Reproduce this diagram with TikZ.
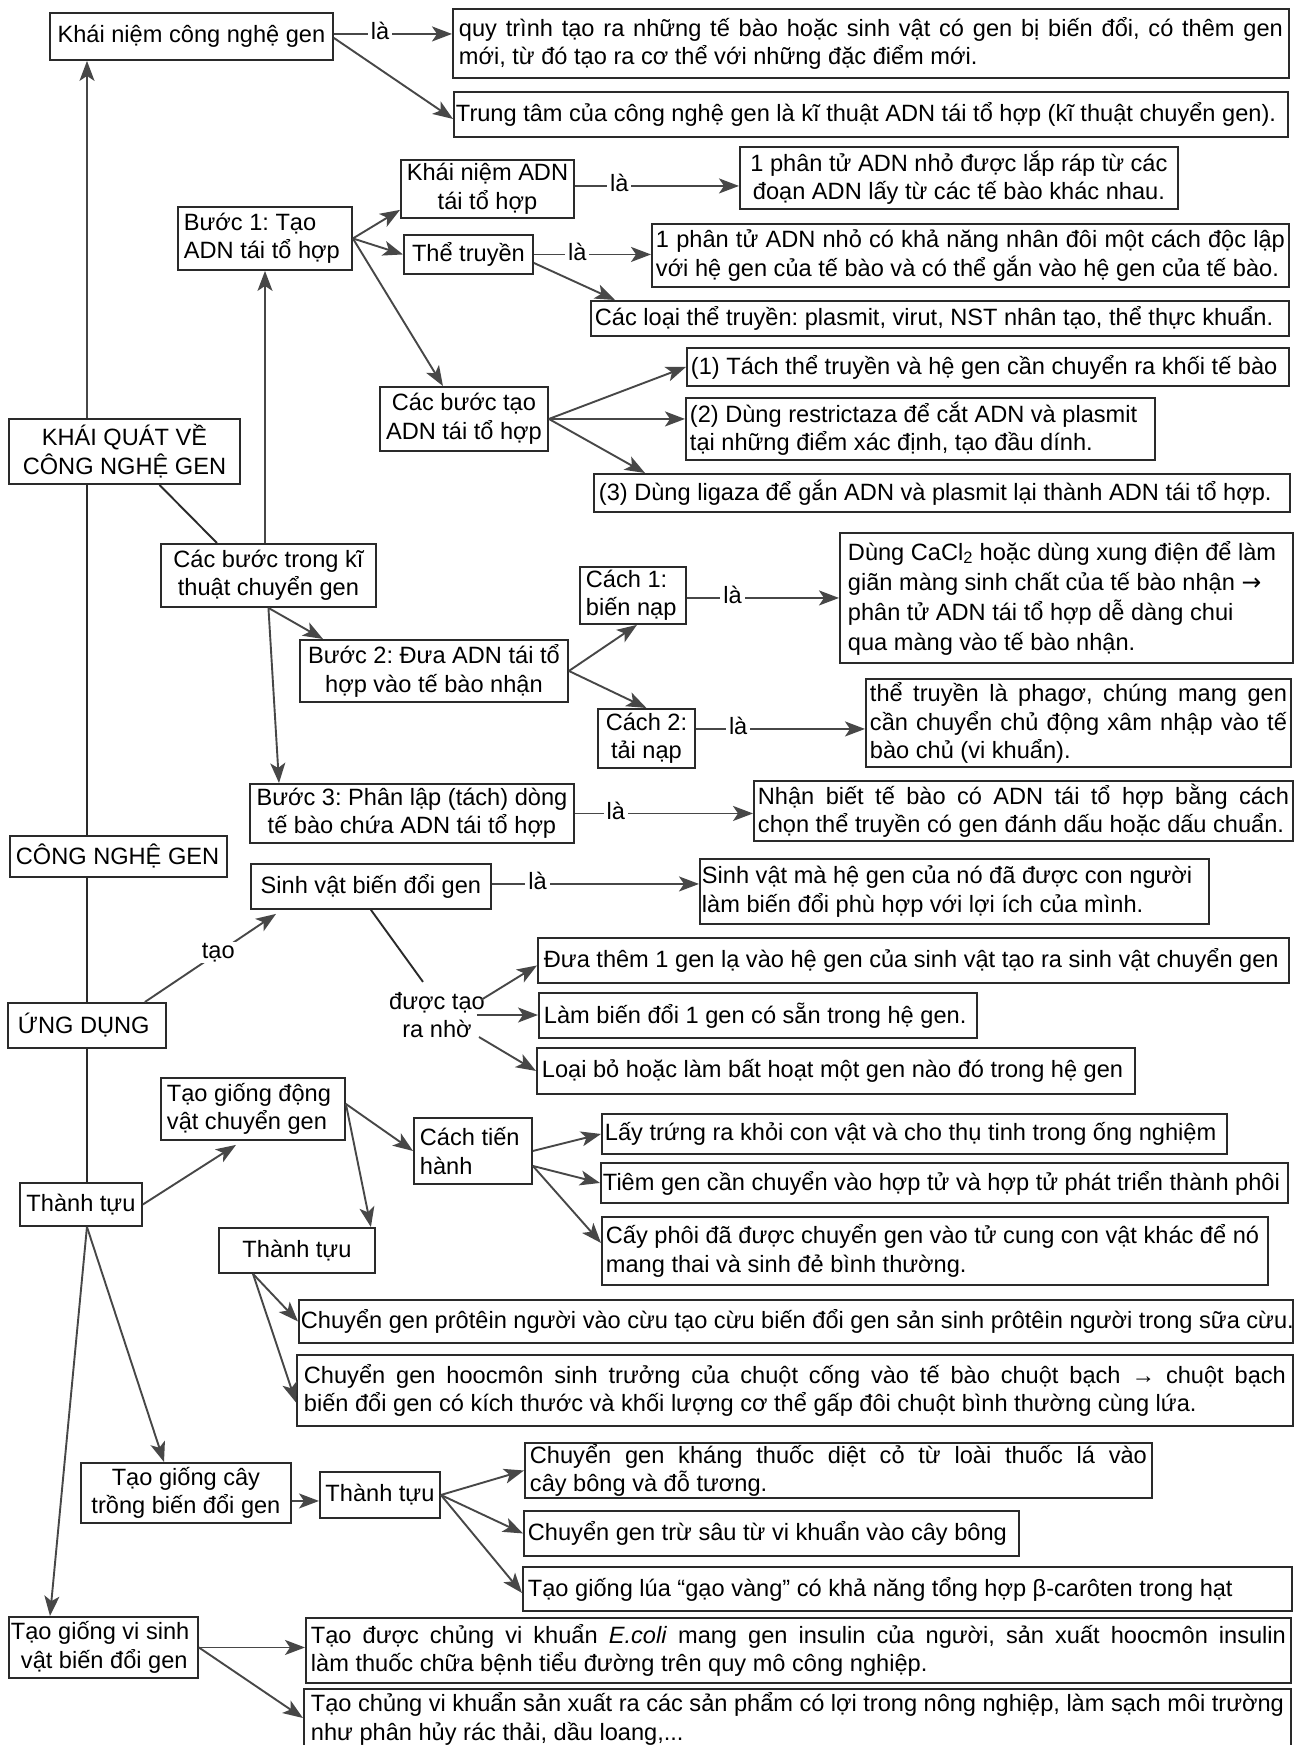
\documentclass[tikz,border=0pt]{standalone}
\usepackage{fontspec}
\setmainfont{Liberation Sans}
\newfontfamily\dvfont{DejaVu Sans}
\usetikzlibrary{arrows.meta,calc}
\definecolor{lc}{HTML}{2A2A2A}
\definecolor{ac}{HTML}{474747}
\newcommand\cmbox[8]{%
  \pgfmathsetmacro\bxw{#4-#2-2*#6}%
  \pgfmathsetmacro\bxh{#5-#3}%
  \node[box,inner xsep=#6pt,text width=\bxw pt,minimum height=\bxh pt,#7] (#1) at (#2,#3) {\spaceskip=0pt\xspaceskip=0pt\relax #8};}
\newcommand\jline[1]{\makebox[\bxw pt][s]{#1}}
\begin{document}
\frenchspacing
\begin{tikzpicture}[x=1pt,y=-1pt,
  box/.style={draw=lc,line width=1.9pt,anchor=north west,inner ysep=0pt,align=left,font=\fontsize{23.6}{28.5}\selectfont\frenchspacing},
  arr/.style={draw=ac,line width=1.9pt,-{Stealth[length=20pt,width=15pt,inset=5pt]}},
  ln/.style={draw=lc,line width=1.9pt},
  lbl/.style={fill=white,inner xsep=3pt,inner ysep=1pt,font=\fontsize{23.6}{28.5}\selectfont}]
\fill[white] (0,0) rectangle (1302,1745);
\useasboundingbox (0,0) rectangle (1302,1745);
\coordinate (tk) at (87,0);
\coordinate (tk2) at (265,0);

% ---- boxes ----
\cmbox{kn}{49}{12}{332}{59}{5}{align=center}{\mbox{Khái niệm công nghệ gen}}
\cmbox{qt}{452}{8}{1288}{77}{6}{}{\jline{quy trình tạo ra những tế bào hoặc sinh vật có gen bị biến đổi, có thêm gen}\\\mbox{mới, từ đó tạo ra cơ thể với những đặc điểm mới.}}
\cmbox{tt}{453}{91}{1287}{136}{2}{}{\mbox{Trung tâm của công nghệ gen là kĩ thuật ADN tái tổ hợp (kĩ thuật chuyển gen).}}
\cmbox{knadn}{400}{159}{573}{217}{3}{align=center}{\mbox{Khái niệm ADN}\\\mbox{tái tổ hợp}}
\cmbox{pt1}{739}{146}{1177}{208}{4}{align=center}{\mbox{1 phân tử ADN nhỏ được lắp ráp từ các}\\\mbox{đoạn ADN lấy từ các tế bào khác nhau.}}
\cmbox{b1}{177}{206}{351}{269}{6}{}{\mbox{Bước 1: Tạo}\\\mbox{ADN tái tổ hợp}}
\cmbox{the}{403}{234}{532}{273}{3}{align=center}{\mbox{Thể truyền}}
\cmbox{pt2}{651}{223}{1288}{286}{4}{}{\jline{1 phân tử ADN nhỏ có khả năng nhân đôi một cách độc lập}\\\mbox{với hệ gen của tế bào và có thể gắn vào hệ gen của tế bào.}}
\cmbox{cl}{590}{300}{1288}{335}{4}{}{\mbox{Các loại thể truyền: plasmit, virut, NST nhân tạo, thể thực khuẩn.}}
\cmbox{cbt}{379}{386}{547}{450}{3}{align=center}{\mbox{Các bước tạo}\\\mbox{ADN tái tổ hợp}}
\cmbox{s1}{686}{347}{1288}{385}{4}{}{\mbox{(1) Tách thể truyền và hệ gen cần chuyển ra khối tế bào}}
\cmbox{s2}{685}{397}{1154}{459}{4}{}{\mbox{(2) Dùng restrictaza để cắt ADN và plasmit}\\\mbox{tại những điểm xác định, tạo đầu dính.}}
\cmbox{s3}{593}{473}{1289}{511}{5}{}{\mbox{(3) Dùng ligaza để gắn ADN và plasmit lại thành ADN tái tổ hợp.}}
\cmbox{kq}{8}{418}{239}{483}{4}{align=center}{\mbox{KHÁI QUÁT VỀ}\\\mbox{CÔNG NGHỆ GEN}}
\cmbox{cbk}{160}{543}{375}{606}{4}{align=center}{\mbox{Các bước trong kĩ}\\\mbox{thuật chuyển gen}}
\cmbox{b2}{299}{639}{567}{701}{3}{align=center}{\mbox{Bước 2: Đưa ADN tái tổ}\\\mbox{hợp vào tế bào nhận}}
\cmbox{c1}{579}{566}{685}{623}{6}{}{\mbox{Cách 1:}\\\mbox{biến nạp}}
\cmbox{cacl}{839}{532}{1292}{662}{8}{font=\fontsize{23.6}{30}\selectfont\frenchspacing}{\mbox{Dùng CaCl\textsubscript{2} hoặc dùng xung điện để làm}\\\mbox{giãn màng sinh chất của tế bào nhận {\dvfont →}}\\\mbox{phân tử ADN tái tổ hợp dễ dàng chui}\\\mbox{qua màng vào tế bào nhận.}}
\cmbox{c2}{597}{708}{694}{767}{5}{align=center}{\mbox{Cách 2:}\\\mbox{tải nạp}}
\cmbox{phago}{865}{678}{1290}{766}{4}{}{\jline{thể truyền là phagơ, chúng mang gen}\\\jline{cần chuyển chủ động xâm nhập vào tế}\\\mbox{bào chủ (vi khuẩn).}}
\cmbox{b3}{249}{783}{573}{842}{3}{align=center}{\mbox{Bước 3: Phân lập (tách) dòng}\\\mbox{tế bào chứa ADN tái tổ hợp}}
\cmbox{nb}{753}{780}{1292}{840}{4}{}{\jline{Nhận biết tế bào có ADN tái tổ hợp bằng cách}\\\mbox{chọn thể truyền có gen đánh dấu hoặc dấu chuẩn.}}
\cmbox{cng}{9}{835}{226}{876}{6}{}{\mbox{CÔNG NGHỆ GEN}}
\cmbox{svbd}{250}{863}{490}{908}{4}{align=center}{\mbox{Sinh vật biến đổi gen}}
\cmbox{svm}{699}{858}{1208}{923}{2}{}{\mbox{Sinh vật mà hệ gen của nó đã được con người}\\\mbox{làm biến đổi phù hợp với lợi ích của mình.}}
\cmbox{ud}{7}{1002}{165}{1047}{10}{}{\mbox{ỨNG DỤNG}}
\cmbox{dt}{537}{937}{1288}{982}{6}{}{\mbox{Đưa thêm 1 gen lạ vào hệ gen của sinh vật tạo ra sinh vật chuyển gen}}
\cmbox{lbd}{538}{992}{976}{1037}{5}{}{\mbox{Làm biến đổi 1 gen có sẵn trong hệ gen.}}
\cmbox{lb}{536}{1047}{1134}{1093}{5}{}{\mbox{Loại bỏ hoặc làm bất hoạt một gen nào đó trong hệ gen}}
\cmbox{tgdv}{160}{1077}{344}{1139}{6}{}{\mbox{Tạo giống động}\\\mbox{vật chuyển gen}}
\cmbox{cth}{413}{1117}{531}{1183}{6}{}{\mbox{Cách tiến}\\\mbox{hành}}
\cmbox{tt1}{19}{1182}{141}{1225}{3}{align=center}{\mbox{Thành tựu}}
\cmbox{tt2}{218}{1227}{374}{1272}{3}{align=center}{\mbox{Thành tựu}}
\cmbox{lt}{601}{1113}{1226}{1153}{3}{}{\mbox{Lấy trứng ra khỏi con vật và cho thụ tinh trong ống nghiệm}}
\cmbox{tg}{600}{1162}{1287}{1202}{2}{}{\mbox{Tiêm gen cần chuyển vào hợp tử và hợp tử phát triển thành phôi}}
\cmbox{cp}{601}{1216}{1267}{1284}{4}{}{\mbox{Cấy phôi đã được chuyển gen vào tử cung con vật khác để nó}\\\mbox{mang thai và sinh đẻ bình thường.}}
\cmbox{cgp}{298}{1299}{1292}{1342}{2}{}{\mbox{Chuyển gen prôtêin người vào cừu tạo cừu biến đổi gen sản sinh prôtêin người trong sữa cừu.}}
\cmbox{cgh}{296}{1354}{1292}{1425}{7}{}{\jline{Chuyển gen hoocmôn sinh trưởng của chuột cống vào tế bào chuột bạch → chuột bạch}\\\mbox{biến đổi gen có kích thước và khối lượng cơ thể gấp đôi chuột bình thường cùng lứa.}}
\cmbox{tgc}{80}{1462}{290}{1522}{3}{align=center}{\mbox{Tạo giống cây}\\\mbox{trồng biến đổi gen}}
\cmbox{tt3}{319}{1471}{439}{1517}{3}{align=center}{\mbox{Thành tựu}}
\cmbox{cgk}{524}{1442}{1151}{1497}{5}{}{\jline{Chuyển gen kháng thuốc diệt cỏ từ loài thuốc lá vào}\\\mbox{cây bông và đỗ tương.}}
\cmbox{cgts}{523}{1510}{1018}{1555}{4}{}{\mbox{Chuyển gen trừ sâu từ vi khuẩn vào cây bông}}
\cmbox{tgl}{522}{1566}{1291}{1610}{5}{}{\mbox{Tạo giống lúa “gạo vàng” có khả năng tổng hợp β-carôten trong hạt}}
\cmbox{tgvs}{8}{1616}{197}{1677}{2}{}{\mbox{Tạo giống vi sinh}\\\mbox{\hspace*{10pt}vật biến đổi gen}}
\cmbox{tdc}{305}{1617}{1290}{1682}{5}{}{\jline{Tạo được chủng vi khuẩn \textit{E.coli} mang gen insulin của người, sản xuất hoocmôn insulin}\\\mbox{làm thuốc chữa bệnh tiểu đường trên quy mô công nghiệp.}}
\cmbox{tc}{303}{1688}{1290}{1748}{7}{}{\jline{Tạo chủng vi khuẩn sản xuất ra các sản phẩm có lợi trong nông nghiệp, làm sạch môi trường}\\\mbox{như phân hủy rác thải, dầu loang,...}}
\node[font=\fontsize{23.6}{28.5}\selectfont,align=center,inner sep=0pt] (dtrn) at (437,1015) {được tạo\\ra nhờ};

% ---- connectors ----
\draw[arr] ([yshift=2.5pt]kn.east) coordinate (a1) -- node[lbl,pos=0.39,yshift=3pt]{là} (a1 -| qt.west);
\draw[arr] ([yshift=-1.5pt]kn.east) -- ([yshift=-4.5pt]tt.west);
\draw[arr] (kq.north -| tk) -- (kn.south -| tk);
\draw[arr] (b1.east) -- ([yshift=9pt]knadn.south west);
\draw[arr] (b1.east) -- (the.west);
\draw[arr] (b1.east) -- ([xshift=-21pt]cbt.north);
\draw[arr] (the.east) coordinate (a2) -- node[lbl,pos=0.37,yshift=3pt]{là} (a2 -| pt2.west);
\draw[arr] ([yshift=3pt]knadn.east) coordinate (a3) -- node[lbl,pos=0.27,yshift=3pt]{là} (a3 -| pt1.west);
\draw[arr] ([yshift=-8.5pt]the.east) -- ([xshift=25pt]cl.north west);
\draw[arr] (cbt.east) -- (s1.west);
\draw[arr] (cbt.east) -- (cbt.east -| s2.west);
\draw[arr] (cbt.east) -- ([xshift=52pt]s3.north west);
\draw[ln] ([xshift=35pt]kq.south) -- ([xshift=-51.5pt]cbk.north);
\draw[arr] (cbk.north -| tk2) -- (b1.south -| tk2);
\draw[ln] (kq.south -| tk) -- (cng.north -| tk);
\draw[arr] (cbk.south) -- ([xshift=24pt]b2.north west);
\draw[arr] (cbk.south) -- ([xshift=30pt]b3.north west);
\draw[arr] (b2.east) -- ([xshift=4pt]c1.south);
\draw[arr] (b2.east) -- (c2.north);
\draw[arr] ([yshift=-2.5pt]c1.east) coordinate (a4) -- node[lbl,pos=0.30,yshift=3pt]{là} (a4 -| cacl.west);
\draw[arr] ([yshift=9.5pt]c2.east) coordinate (a5) -- node[lbl,pos=0.25,yshift=3pt]{là} (a5 -| phago.west);
\draw[arr] (b3.east) coordinate (a6) -- node[lbl,pos=0.23,yshift=3pt]{là} (a6 -| nb.west);
\draw[ln] (cng.south -| tk) -- (ud.north -| tk);
\draw[arr] ([xshift=-22pt]ud.north east) -- node[lbl,pos=0.56]{tạo} ([xshift=26pt,yshift=-4pt]svbd.south west);
\draw[arr] ([yshift=2.5pt]svbd.east) coordinate (a7) -- node[lbl,pos=0.22,yshift=3pt]{là} (a7 -| svm.west);
\draw[ln] (svbd.south) -- ([xshift=-14pt,yshift=10pt]dtrn.north);
\draw[arr] ([xshift=-4pt,yshift=15pt]dtrn.east) -- ([yshift=-5pt]dt.west);
\draw[arr] ([xshift=-8pt]dtrn.east) coordinate (a8) -- (a8 -| lbd.west);
\draw[arr] ([xshift=-6pt,yshift=-22pt]dtrn.east) -- (lb.west);
\draw[ln] (ud.south -| tk) -- (tt1.north -| tk);
\draw[arr] (tt1.east) -- ([xshift=76pt,yshift=-4pt]tgdv.south west);
\draw[arr] ([yshift=5pt]tgdv.east) -- (cth.west);
\draw[arr] ([yshift=5pt]tgdv.east) -- ([xshift=-5pt]tt2.north east);
\draw[arr] (cth.east) -- (lt.west);
\draw[arr] ([yshift=-15pt]cth.east) -- (tg.west);
\draw[arr] ([yshift=-15pt]cth.east) -- ([yshift=8pt]cp.west);
\draw[arr] ([xshift=35pt]tt2.south west) -- (cgp.west);
\draw[arr] ([xshift=35pt]tt2.south west) -- ([yshift=-12pt]cgh.west);
\draw[arr] ([xshift=6pt]tt1.south) -- ([xshift=84pt]tgc.north west);
\draw[arr] ([xshift=6pt]tt1.south) -- ([xshift=42pt]tgvs.north west);
\draw[arr] ([yshift=-8pt]tgc.east) coordinate (a9) -- (a9 -| tt3.west);
\draw[arr] (tt3.east) -- (cgk.west);
\draw[arr] (tt3.east) -- (cgts.west);
\draw[arr] (tt3.east) -- ([yshift=-4pt]tgl.west);
\draw[arr] (tgvs.east) coordinate (a10) -- (a10 -| tdc.west);
\draw[arr] (tgvs.east) -- ([yshift=-30pt]tc.north west);
\end{tikzpicture}
\end{document}
